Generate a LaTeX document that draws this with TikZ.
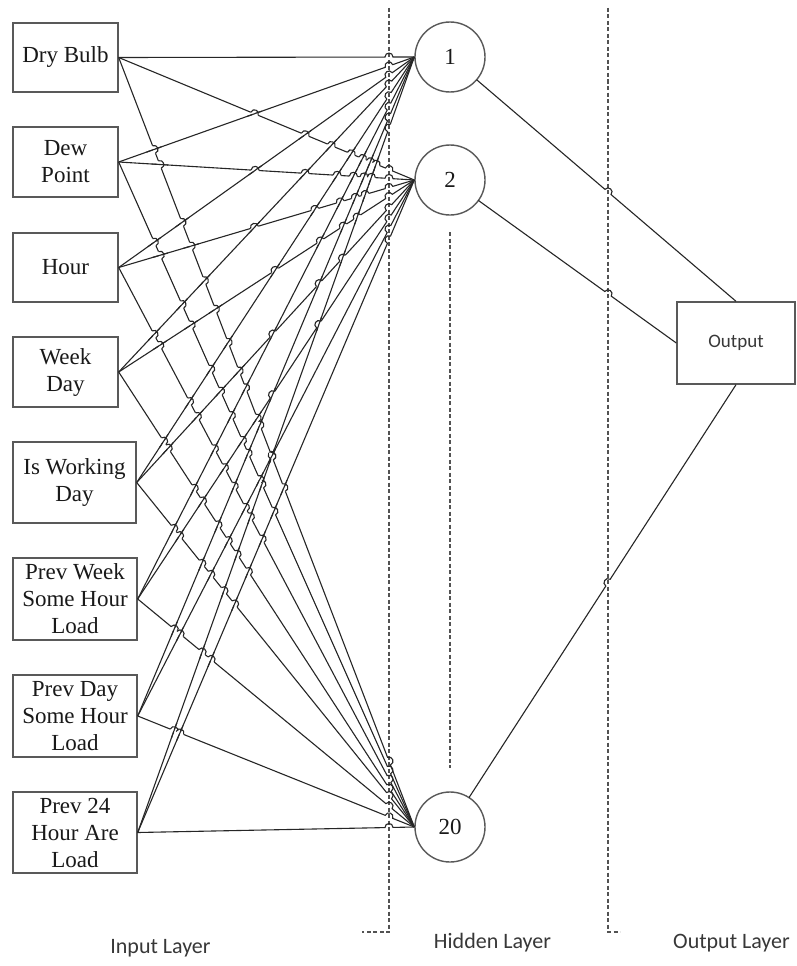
\documentclass[tikz,border=0pt]{standalone}
\usepackage{fontspec}
\setmainfont{Liberation Serif}
\newfontfamily\labelfont{Carlito}
\usetikzlibrary{calc}

\tikzset{
  unit box/.style={draw=black!65, line width=1.4pt, fill=white, inner sep=0pt,
    align=center, text=black!90, font=\fontsize{23}{27}\selectfont},
  neuron/.style={circle, draw=black!65, line width=1.4pt, fill=white,
    minimum size=70pt, inner sep=0pt, text=black!90, font=\fontsize{23}{27}\selectfont},
  link/.style={draw=black!85, line width=1.1pt},
  divider/.style={draw=black!68, line width=1.4pt, dash pattern=on 4pt off 2.5pt},
  layer label/.style={anchor=base, text=black!78, font=\labelfont\fontsize{22}{26}\selectfont},
}

\newdimen\anchordim
% canvas position of anchor #2 of node #1, stored in macros #3 and #4 (in pt)
\newcommand\anchorxy[4]{%
  \pgfextractx{\anchordim}{\pgfpointanchor{#1}{#2}}\edef#3{\the\anchordim}%
  \pgfextracty{\anchordim}{\pgfpointanchor{#1}{#2}}\edef#4{\the\anchordim}}

% connector from anchor #2 of #1 to anchor #4 of #3, jumping the divider at x = #5
\newcommand\crossdivider[5]{%
  \anchorxy{#1}{#2}\dvAx\dvAy
  \anchorxy{#3}{#4}\dvBx\dvBy
  \pgfmathsetmacro\dvY{\dvAy+(\dvBy-\dvAy)/(\dvBx-\dvAx)*(#5-\dvAx)}
  \coordinate (dc) at (#5pt,\dvY pt);
  \coordinate (da) at ($(dc)!4pt!(#1.#2)$);
  \coordinate (db) at ($(dc)!4pt!(#3.#4)$);
  \draw[link] (#1.#2) -- (da) .. controls ($(da)!5.3pt!90:(db)$) and ($(db)!5.3pt!-90:(da)$) .. (db) -- (#3.#4);
}

% input #1 -> hidden #2 jumps over input #3 -> hidden #4 where they cross
\newcommand\jumpover[4]{%
  \anchorxy{in#1}{east}\jAx\jAy
  \anchorxy{h#2}{west}\jBx\jBy
  \anchorxy{in#3}{east}\jCx\jCy
  \anchorxy{h#4}{west}\jDx\jDy
  \pgfmathsetmacro\jma{(\jBy-\jAy)/(\jBx-\jAx)}
  \pgfmathsetmacro\jmb{(\jDy-\jCy)/(\jDx-\jCx)}
  \pgfmathsetmacro\jxs{max(\jAx,\jCx)}
  \pgfmathsetmacro\jxe{min(\jBx,\jDx)}
  \pgfmathsetmacro\jda{(\jAy+\jma*(\jxs-\jAx))-(\jCy+\jmb*(\jxs-\jCx))}
  \pgfmathsetmacro\jdb{(\jAy+\jma*(\jxe-\jAx))-(\jCy+\jmb*(\jxe-\jCx))}
  \pgfmathtruncatemacro\jok{or(and(\jda>0.5,\jdb<-0.5),and(\jda<-0.5,\jdb>0.5))}
  \ifnum\jok=1
    \pgfmathsetmacro\jx{\jxs+\jda/(\jda-\jdb)*(\jxe-\jxs)}
    \pgfmathsetmacro\jy{\jAy+\jma*(\jx-\jAx)}
    \coordinate (X) at (\jx pt,\jy pt);
    \coordinate (ja) at ($(X)!4pt!(in#1.east)$);
    \coordinate (jb) at ($(X)!4pt!(h#2.west)$);
    \path[draw=white, line width=2.8pt] (ja) -- (jb);
    \path[link] ($(X)!8pt!(in#3.east)$) -- ($(X)!8pt!(h#4.west)$);
    \path[link] (ja) .. controls ($(ja)!5.3pt!90:(jb)$) and ($(jb)!5.3pt!-90:(ja)$) .. (jb);
  \fi
}

\begin{document}
\begin{tikzpicture}[x=1pt, y=-1pt]
  \useasboundingbox (0,0) rectangle (797,966);
  \fill[white] (0,0) rectangle (797,966);

  % layer dividers
  \draw[divider] (389,8) -- (389,932) -- (362,932);
  \draw[divider] (608,8) -- (608,932) -- (620,932);
  \draw[divider] (450,232) -- (450,768);

  % input units
  \node[unit box, minimum width=105pt, minimum height=69pt] (in1) at (65.5,57.5) {Dry Bulb};
  \node[unit box, minimum width=105pt, minimum height=70pt] (in2) at (65.5,162) {Dew\\Point};
  \node[unit box, minimum width=105pt, minimum height=69pt] (in3) at (65.5,267.5) {Hour};
  \node[unit box, minimum width=105pt, minimum height=70pt] (in4) at (65.5,372) {Week\\Day};
  \node[unit box, minimum width=123pt, minimum height=81pt] (in5) at (74.5,482.5) {Is Working\\Day};
  \node[unit box, minimum width=124pt, minimum height=82pt] (in6) at (75,599) {Prev Week\\Some Hour\\Load};
  \node[unit box, minimum width=124pt, minimum height=82pt] (in7) at (75,716) {Prev Day\\Some Hour\\Load};
  \node[unit box, minimum width=124pt, minimum height=81pt] (in8) at (75,832.5) {Prev 24\\Hour Are\\Load};

  % hidden units
  \node[neuron] (h1) at (450,57) {1};
  \node[neuron] (h2) at (450,180) {2};
  \node[neuron] (h20) at (450,827) {20};

  % output unit
  \node[unit box, minimum width=118pt, minimum height=82pt,
        font=\labelfont\fontsize{19}{22}\selectfont, text=black!78] (out) at (736,343) {Output};

  % input -> hidden connectors
  \foreach \j in {1,2,20} {
    \foreach \i in {1,...,8} {
      \crossdivider{in\i}{east}{h\j}{west}{389}
    }
  }

  % connectors to a later hidden unit jump over those to an earlier one
  \foreach \j/\l in {2/1, 20/1, 20/2} {
    \foreach \i in {1,...,8} {
      \foreach \k in {1,...,8} {
        \ifnum\i=\k\else
          \jumpover{\i}{\j}{\k}{\l}
        \fi
      }
    }
  }

  % hidden -> output connectors, leaving the circles towards their targets
  \coordinate (h1o) at ($(h1)!35pt!(out.north)$);
  \coordinate (h2o) at ($(h2)!35pt!(out.west)$);
  \coordinate (h20o) at ($(h20)!35pt!(out.south)$);
  \crossdivider{h1o}{center}{out}{north}{608}
  \crossdivider{h2o}{center}{out}{west}{608}
  \crossdivider{h20o}{center}{out}{south}{608}

  % layer captions
  \node[layer label] (capin) at (160.5,953) {Input Layer};
  \node[layer label] (caphid) at (492.5,948) {Hidden Layer};
  \node[layer label] (capout) at (731.5,948) {Output Layer};
\end{tikzpicture}
\end{document}
